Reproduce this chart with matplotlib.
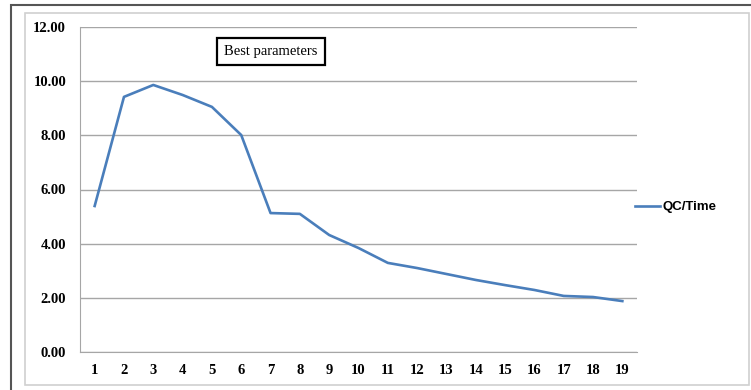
import matplotlib
matplotlib.use("Agg")
import matplotlib.pyplot as plt
from matplotlib.patches import Rectangle

categories = [str(i) for i in range(1, 20)]
qc_time = [5.39, 9.42, 9.86, 9.49, 9.05, 8.01, 5.13, 5.10, 4.32, 3.84,
           3.29, 3.10, 2.88, 2.66, 2.47, 2.29, 2.07, 2.03, 1.88]
y_ticks = [0, 2, 4, 6, 8, 10, 12]
y_labels = ["0.00", "2.00", "4.00", "6.00", "8.00", "10.00", "12.00"]

W, H = 751, 390
fig = plt.figure(figsize=(W / 100, H / 100), dpi=100)

# outer frames
fig.add_artist(Rectangle((11 / W, -0.05), 1.1, (H - 5) / H + 0.05, transform=fig.transFigure,
                         fill=False, edgecolor="#555555", linewidth=1.5))
fig.add_artist(Rectangle((25 / W, 5 / H), (W - 27) / W, (H - 18) / H, transform=fig.transFigure,
                         fill=False, edgecolor="#d0d0d0", linewidth=1.2))

ax = fig.add_axes([80 / W, 38 / H, 557 / W, 325 / H])
x = list(range(1, len(categories) + 1))
ax.plot(x, qc_time, color="#4a7ebb", linewidth=1.9, label="QC/Time")

ax.set_xlim(0.5, len(categories) + 0.5)
ax.set_ylim(0, 12)
ax.set_yticks(y_ticks)
ax.set_yticklabels(y_labels)
ax.set_xticks(x)
ax.set_xticklabels(categories)
for lab in ax.get_xticklabels() + ax.get_yticklabels():
    lab.set_fontfamily("Liberation Serif")
    lab.set_fontweight("bold")
    lab.set_fontsize(10.5)
ax.tick_params(axis="both", length=0)
ax.tick_params(axis="y", pad=10)
ax.tick_params(axis="x", pad=9)

ax.grid(axis="y", color="#a6a6a6", linewidth=1.0)
ax.set_axisbelow(True)
for s in ["top", "right"]:
    ax.spines[s].set_visible(False)
ax.spines["left"].set_color("#a6a6a6")
ax.spines["bottom"].set_color("#a6a6a6")

ax.text(0.343, 0.925, "Best parameters", transform=ax.transAxes, ha="center", va="center",
        fontfamily="Liberation Serif", fontsize=10.5,
        bbox=dict(boxstyle="square,pad=0.5", facecolor="white", edgecolor="black", linewidth=1.6))

leg = fig.legend(loc="center left", bbox_to_anchor=(623 / W, 1 - 207 / H), frameon=False,
                 handlelength=1.9, handletextpad=0.2,
                 prop=dict(family="Liberation Sans", weight="bold", size=9.5))

fig.savefig("out.png", dpi=100)
